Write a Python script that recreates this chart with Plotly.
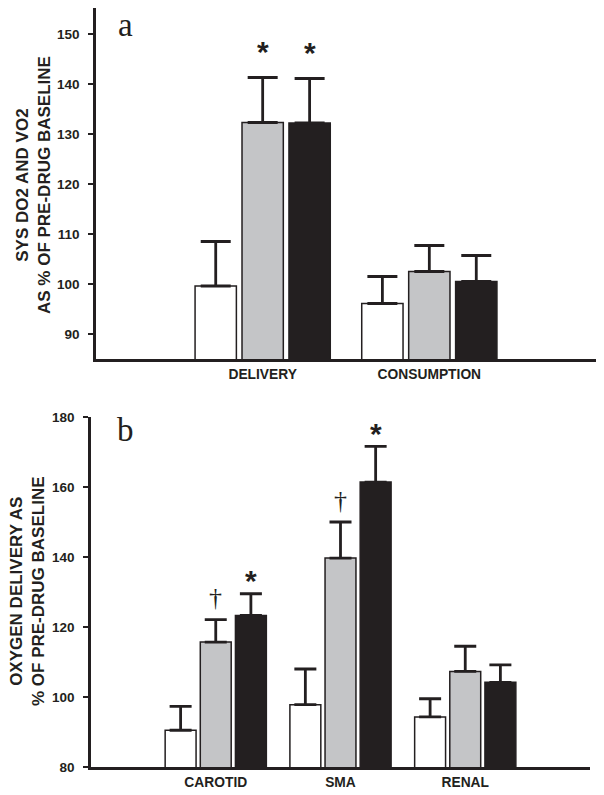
import plotly.graph_objects as go

# ---- Panel a data ----
cats_a = ["DELIVERY", "CONSUMPTION"]
white_a = [99.6, 96.1]
white_a_err = [8.9, 5.4]
gray_a = [132.3, 102.5]
gray_a_err = [9.0, 5.2]
black_a = [132.2, 100.5]
black_a_err = [8.9, 5.2]
yticks_a = [90, 100, 110, 120, 130, 140, 150]

# ---- Panel b data ----
cats_b = ["CAROTID", "SMA", "RENAL"]
white_b = [90.5, 97.8, 94.3]
white_b_err = [6.8, 10.2, 5.2]
gray_b = [115.7, 139.7, 107.3]
gray_b_err = [6.4, 10.3, 7.2]
black_b = [123.3, 161.4, 104.2]
black_b_err = [6.2, 10.2, 5.0]
yticks_b = [80, 100, 120, 140, 160, 180]

# significance marks: (panel, category index, series index, symbol)
marks = [
    ("a", 0, 1, "*"), ("a", 0, 2, "*"),
    ("b", 0, 1, "†"), ("b", 0, 2, "*"),
    ("b", 1, 1, "†"), ("b", 1, 2, "*"),
]

W, H = 604, 795
INK = "#231f20"
GRAY = "#c4c5c7"
BARGAP = 0.155
BARGROUPGAP = 0.12

fig = go.Figure()

def add_panel(cats, series, xa, ya, capw):
    xs = list(range(len(cats)))
    for name, vals, errs, color in series:
        fig.add_trace(go.Bar(
            x=xs, y=vals, name=name, showlegend=False,
            marker=dict(color=color, line=dict(color=INK, width=1.5)),
            error_y=dict(type="data", array=errs, arrayminus=[0] * len(errs),
                         symmetric=False, color=INK, thickness=2.8, width=capw),
            xaxis=xa, yaxis=ya,
        ))

series_a = [("Control", white_a, white_a_err, "white"),
            ("Dose 1", gray_a, gray_a_err, GRAY),
            ("Dose 2", black_a, black_a_err, INK)]
series_b = [("Control", white_b, white_b_err, "white"),
            ("Dose 1", gray_b, gray_b_err, GRAY),
            ("Dose 2", black_b, black_b_err, INK)]

add_panel(cats_a, series_a, "x", "y", 15)
add_panel(cats_b, series_b, "x2", "y2", 11)

tickfont = dict(family="Liberation Sans", size=13.5, color=INK, weight="bold")
catfont = dict(family="Liberation Sans", size=13.8, color=INK, weight="bold")

common_x = dict(showline=True, linecolor=INK, linewidth=2.5, ticks="",
                showgrid=False, zeroline=False, tickfont=catfont,
                ticklabelstandoff=1, automargin=False)
common_y = dict(showline=True, linecolor=INK, linewidth=2.5, ticks="outside",
                ticklen=5, tickwidth=2, tickcolor=INK, showgrid=False,
                zeroline=False, tickfont=tickfont, ticklabelstandoff=6,
                automargin=False)

fig.update_layout(
    width=W, height=H,
    margin=dict(l=0, r=0, t=0, b=0),
    paper_bgcolor="white", plot_bgcolor="white",
    barmode="group", bargap=BARGAP, bargroupgap=BARGROUPGAP,
    xaxis=dict(domain=[96 / W, 596 / W], range=[-1, 2],
               tickvals=list(range(len(cats_a))), ticktext=cats_a,
               anchor="y", **common_x),
    yaxis=dict(domain=[1 - 359 / H, 1 - 8 / H], range=[85, 155.2],
               tickvals=yticks_a, anchor="x", **common_y),
    xaxis2=dict(domain=[91 / W, 590 / W], range=[-1, 3],
                tickvals=list(range(len(cats_b))), ticktext=cats_b,
                anchor="y2", **common_x),
    yaxis2=dict(domain=[1 - 767 / H, 1 - 417 / H], range=[80, 180],
                tickvals=yticks_b, anchor="x2", **common_y),
)

ann = []
# y-axis titles
titlefont = dict(family="Liberation Sans", size=17, color=INK, weight="bold")
ann.append(dict(text="SYS DO2 AND VO2<br>AS % OF PRE-DRUG BASELINE",
                xref="paper", yref="paper", x=34 / W, y=1 - 185 / H,
                xanchor="center", yanchor="middle", textangle=-90,
                showarrow=False, font=titlefont))
ann.append(dict(text="OXYGEN DELIVERY AS<br>% OF PRE-DRUG BASELINE",
                xref="paper", yref="paper", x=27 / W, y=1 - 591 / H,
                xanchor="center", yanchor="middle", textangle=-90,
                showarrow=False, font=titlefont))
# panel letters
letterfont = dict(family="Liberation Serif", size=33, color=INK)
ann.append(dict(text="a", xref="paper", yref="paper", x=125 / W, y=1 - 25 / H,
                xanchor="center", yanchor="middle", showarrow=False, font=letterfont))
ann.append(dict(text="b", xref="paper", yref="paper", x=125 / W, y=1 - 430 / H,
                xanchor="center", yanchor="middle", showarrow=False, font=letterfont))

# significance symbols above the error bars
slot = (1 - BARGAP) / 3
data = {"a": series_a, "b": series_b}
for panel, ci, si, sym in marks:
    _, vals, errs, _ = data[panel][si]
    xpos = ci + (si - 1) * slot
    top = vals[ci] + errs[ci]
    if sym == "*":
        f = dict(family="Liberation Sans", size=30, color=INK, weight="bold")
        ys = 26 if panel == "a" else 13
    else:
        f = dict(family="Liberation Serif", size=26, color=INK)
        ys = 22
    ann.append(dict(text=sym, x=xpos, y=top,
                    xref="x" if panel == "a" else "x2",
                    yref="y" if panel == "a" else "y2",
                    xanchor="center", yanchor="middle", yshift=ys,
                    showarrow=False, font=f))

fig.update_layout(annotations=ann)
fig.write_html("out.html", config={"displayModeBar": False},
               post_script="document.body.style.margin='0';")
